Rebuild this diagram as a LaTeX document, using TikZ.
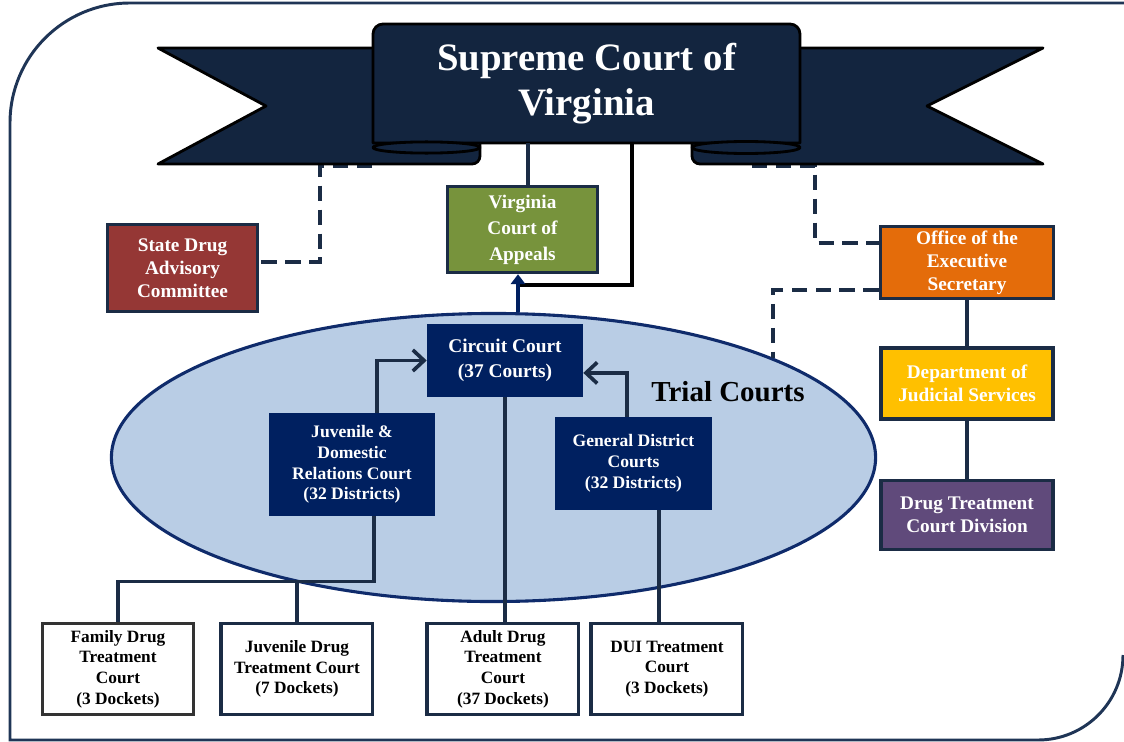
\documentclass[tikz,border=0pt]{standalone}
\usepackage{fontspec}
\setmainfont{Liberation Serif}
\usepackage{xcolor}
\usepackage{tikz}
\usetikzlibrary{shapes.geometric,arrows.meta,positioning}

\definecolor{framenavy}{HTML}{1F3556}
\definecolor{ribbonnavy}{HTML}{13253F}
\definecolor{linenavy}{HTML}{1B2C45}
\definecolor{courtnavy}{HTML}{002060}
\definecolor{trialblue}{HTML}{B9CDE5}
\definecolor{trialedge}{HTML}{0F2B6B}
\definecolor{sdacred}{HTML}{953735}
\definecolor{appealsgreen}{HTML}{77933C}
\definecolor{oesorange}{HTML}{E46C0A}
\definecolor{djsyellow}{HTML}{FFC000}
\definecolor{dtcpurple}{HTML}{604A7B}

\begin{document}
\begin{tikzpicture}[
    x=0.025cm, y=-0.025cm,
    block/.style={rectangle, draw=linenavy, line width=2.4pt, text=white, align=center, inner sep=2pt, minimum width=3.75cm, minimum height=2.175cm, font=\fontsize{13.7}{16.5}\selectfont\bfseries},
    court/.style={rectangle, fill=courtnavy, text=white, align=center, inner sep=2pt, font=\fontsize{12.5}{14.8}\selectfont\bfseries},
    docket/.style={rectangle, draw=linenavy, line width=2.8pt, fill=white, align=center, inner sep=2pt, minimum width=3.775cm, minimum height=2.275cm, font=\fontsize{12.3}{14.7}\selectfont\bfseries},
    trial/.style={ellipse, draw=trialedge, line width=2.2pt, fill=trialblue, minimum width=19.1cm, minimum height=7.2cm},
    ribbon/.style={draw=black, line width=2pt, fill=ribbonnavy, line join=round},
    outerframe/.style={draw=framenavy, line width=2.1pt},
    link/.style={draw=linenavy, line width=2.6pt},
    dashlink/.style={draw=linenavy, line width=2.5pt, dash pattern=on 11pt off 6pt},
    arrow/.style={link, -{Straight Barb[length=8pt,width=15pt]}},
    uparrow/.style={draw=courtnavy, line width=2.8pt, -{Triangle[length=7pt,width=10pt]}}
]
\useasboundingbox (0,0) rectangle (1124,742);

% frame
\draw[outerframe] (1124,3) -- (130,3) to[out=180,in=90] (10,123) -- (10,740) -- (1038,740) to[out=0,in=-90] (1123,655);

% trial courts
\node[trial] (trial) at (493.5,457.5) {};
\node[font=\fontsize{20.6}{24}\selectfont\bfseries] (triallabel) at (728,392) {Trial Courts};

% boxes
\node[block, fill=sdacred] (sdac) at (182.5,268) {State Drug\\Advisory\\Committee};
\node[block, fill=appealsgreen, minimum height=2.15cm, font=\fontsize{13.7}{18.5}\selectfont\bfseries] (appeals) at (522.5,229.5) {Virginia\\Court of\\Appeals};
\node[block, fill=oesorange, minimum width=4.325cm, minimum height=1.8cm] (oes) at (967,262.5) {Office of the\\Executive\\Secretary};
\node[block, fill=djsyellow, minimum width=4.3cm, minimum height=1.775cm, below=1.15cm of oes] (djs) {Department of\\Judicial Services};
\node[block, fill=dtcpurple, minimum width=4.3cm, minimum height=1.725cm, below=1.45cm of djs] (dtcd) {Drug Treatment\\Court Division};

% courts inside the ellipse
\node[court, minimum width=3.9cm, minimum height=1.825cm, font=\fontsize{13.8}{17.8}\selectfont\bfseries] (circuit) at (505,360.5) {Circuit Court\\(37 Courts)};
\node[court, minimum width=4.15cm, minimum height=2.575cm] (jdr) at (352,464.5) {Juvenile \&\\Domestic\\Relations Court\\(32 Districts)};
\node[court, minimum width=3.925cm, minimum height=2.325cm] (gdc) at (633.5,463.5) {General District\\Courts\\(32 Districts)};

% dockets
\node[docket, draw=black!80] (family) at (118,669) {Family Drug\\Treatment\\Court\\(3 Dockets)};
\node[docket, right=0.6cm of family] (juvdtc) {Juvenile Drug\\Treatment Court\\(7 Dockets)};
\node[docket, right=1.275cm of juvdtc] (adultdtc) {Adult Drug\\Treatment\\Court\\(37 Dockets)};
\node[docket, right=0.225cm of adultdtc] (duidtc) {DUI Treatment\\Court\\(3 Dockets)};

% dashed links (under the ribbon)
\coordinate (lfold) at (372,166);
\coordinate (rfold) at (752,166);
\coordinate (trialne) at (773,358);
\draw[dashlink] (lfold) -- ++(-52,0) |- ([yshift=0.15cm]sdac.east);
\draw[dashlink] (rfold) -- ++(63,0) |- ([yshift=0.49cm]oes.west);
\draw[dashlink] ([yshift=-0.69cm]oes.west) -| (trialne);

% ribbon
\draw[ribbon] (158,48) -- (480,48) -- (480,156) to[out=-90,in=0] (472,164) -- (158,164) -- (266,106) -- cycle;
\draw[ribbon] (1043,48) -- (692,48) -- (692,156) to[out=-90,in=180] (700,164) -- (1043,164) -- (927,106) -- cycle;
\draw[ribbon] (373,143) -- (373,34) to[out=90,in=180] (383,24) -- (790,24) to[out=0,in=90] (800,34) -- (800,143) -- cycle;
\draw[ribbon] (426.5,147.5) ellipse [x radius=1.3375cm, y radius=0.14cm];
\draw[ribbon] (746,147.5) ellipse [x radius=1.35cm, y radius=0.15cm];
\node[text=white, align=center, inner sep=0pt, minimum width=10.675cm, minimum height=2.975cm, font=\fontsize{27.6}{32}\selectfont\bfseries] (sc) at (586.5,83.5) {Supreme Court of\\Virginia};

% links
\coordinate (joint) at (518,285);
\coordinate (trialtop) at (518,312);
\draw[link] ([xshift=0.14cm]appeals.north) coordinate (a1) -- (a1 |- sc.south);
\draw[link, draw=black] ([xshift=1.1375cm]sc.south) |- (joint);
\draw[uparrow] (trialtop) -- (trialtop |- appeals.south);

\draw[arrow] ([xshift=0.625cm]jdr.north) |- (circuit.west);
\draw[arrow] ([xshift=-0.16cm]gdc.north) |- ([yshift=-0.31cm]circuit.east);

\draw[link] (circuit.south) -- (circuit.south |- adultdtc.north);
\draw[link] ([xshift=0.64cm]gdc.south) coordinate (g1) -- (g1 |- duidtc.north);
\path (juvdtc.north) ++(0,-40) coordinate (split);
\draw[link] ([xshift=0.55cm]jdr.south) |- (split) -| (family.north);
\draw[link] (split) -- (juvdtc.north);

\draw[link] (oes) -- (djs);
\draw[link] (djs) -- (dtcd);

\end{tikzpicture}
\end{document}
